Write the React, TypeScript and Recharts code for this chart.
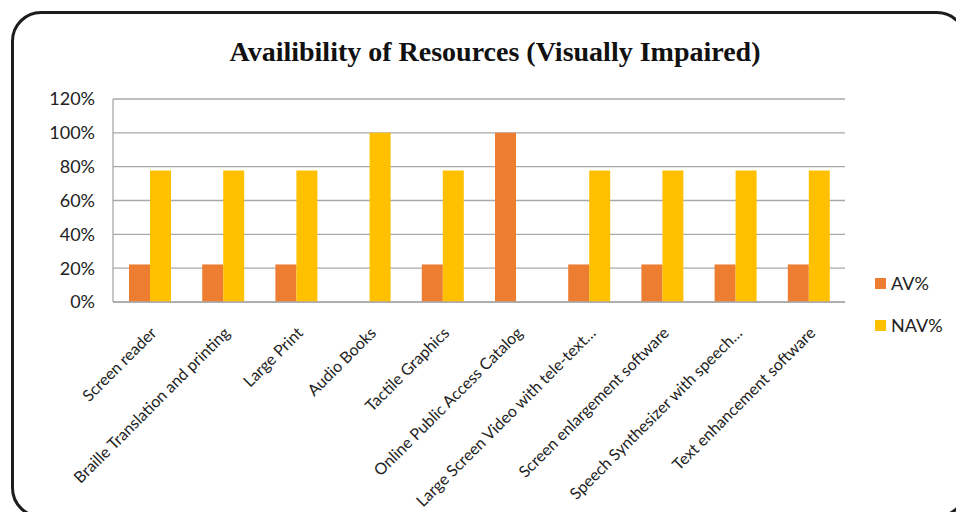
import React from "react";
import { BarChart, Bar, XAxis, YAxis, CartesianGrid } from "recharts";

const categories = [
  "Screen reader",
  "Braille Translation and printing",
  "Large Print",
  "Audio Books",
  "Tactile Graphics",
  "Online Public Access Catalog",
  "Large Screen Video with tele-text…",
  "Screen enlargement software",
  "Speech Synthesizer with speech…",
  "Text enhancement software",
];

const avValues = [22.2, 22.2, 22.2, 0, 22.2, 100, 22.2, 22.2, 22.2, 22.2];
const navValues = [77.8, 77.8, 77.8, 100, 77.8, 0, 77.8, 77.8, 77.8, 77.8];

const yTicks = [0, 20, 40, 60, 80, 100, 120];

const seriesNames = { av: "AV%", nav: "NAV%" };
const colors = { av: "#ED7D31", nav: "#FFC000" };

const data = categories.map((name, i) => ({
  name,
  av: avValues[i],
  nav: navValues[i],
}));

const FONT = "Lato, 'Open Sans', sans-serif";

const CategoryTick = (props: any) => {
  const { x, y, payload } = props;
  const tx = x + 8;
  const ty = y + 24;
  return (
    <text
      x={tx}
      y={ty}
      transform={`rotate(-45, ${tx}, ${ty})`}
      textAnchor="end"
      fontFamily={FONT}
      fontSize={16}
      fill="#222"
    >
      {payload.value}
    </text>
  );
};

const LegendBox = () => (
  <div
    style={{
      position: "absolute",
      left: 875,
      top: 262,
      fontFamily: FONT,
      fontSize: 18,
      color: "#222",
    }}
  >
    {(["av", "nav"] as const).map((k) => (
      <div key={k} style={{ display: "flex", alignItems: "center", height: 42 }}>
        <span
          style={{
            display: "inline-block",
            width: 11,
            height: 11,
            background: colors[k],
            marginRight: 5,
          }}
        />
        {seriesNames[k]}
      </div>
    ))}
  </div>
);

export default function App() {
  return (
    <div
      style={{
        position: "absolute",
        left: 0,
        top: 0,
        width: 956,
        height: 512,
        overflow: "hidden",
        background: "#fff",
      }}
    >
      <div
        style={{
          position: "absolute",
          left: 11,
          top: 11,
          width: 950,
          height: 501,
          border: "3px solid #1c1c1c",
          borderRadius: 30,
        }}
      />
      <div
        style={{
          position: "absolute",
          left: 0,
          top: 36,
          width: 990,
          textAlign: "center",
          fontFamily: "'Liberation Serif', 'Times New Roman', serif",
          fontWeight: "bold",
          fontSize: 28,
          color: "#111",
        }}
      >
        Availibility of Resources (Visually Impaired)
      </div>
      <div style={{ position: "absolute", left: 0, top: 0 }}>
        <BarChart
          width={956}
          height={512}
          data={data}
          margin={{ top: 99, right: 111, bottom: 10, left: 53 }}
          barSize={21}
          barGap={0}
        >
          <CartesianGrid vertical={false} stroke="#a8a8a8" strokeWidth={1.3} />
          <YAxis
            width={60}
            domain={[0, 120]}
            ticks={yTicks}
            tickFormatter={(v: number) => `${v}%`}
            axisLine={{ stroke: "#a8a8a8", strokeWidth: 1.3 }}
            tickLine={false}
            tickSize={0}
            tickMargin={18}
            tick={{ fontFamily: FONT, fontSize: 18, fill: "#222" }}
          />
          <XAxis
            dataKey="name"
            interval={0}
            height={200}
            axisLine={{ stroke: "#a8a8a8", strokeWidth: 1.3 }}
            tickLine={false}
            tick={<CategoryTick />}
          />
          <Bar dataKey="av" name={seriesNames.av} fill={colors.av} isAnimationActive={false} />
          <Bar dataKey="nav" name={seriesNames.nav} fill={colors.nav} isAnimationActive={false} />
        </BarChart>
      </div>
      <LegendBox />
    </div>
  );
}
